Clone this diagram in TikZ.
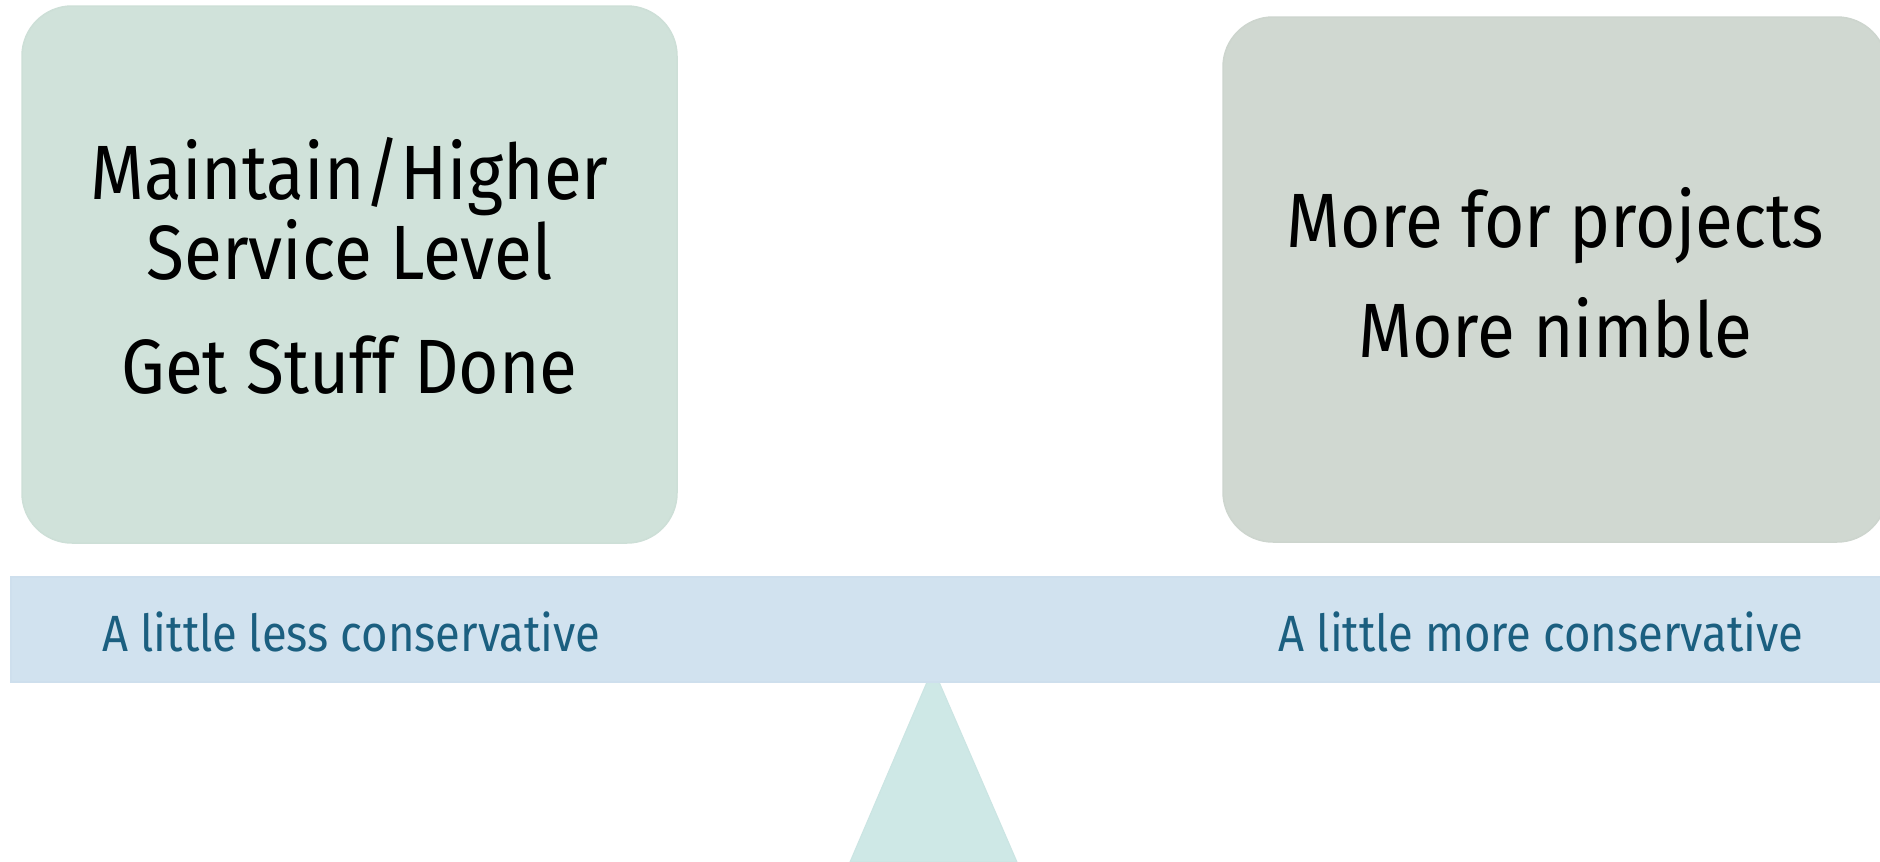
\documentclass[tikz,border=0pt]{standalone}
\usepackage{fontspec}
\newfontfamily\dinfont[FakeStretch=0.9]{Fira Sans}
\newfontfamily\dinbeam[FakeStretch=0.89]{Fira Sans}
\definecolor{leftfill}{HTML}{D0E2DA}
\definecolor{leftedge}{HTML}{CDDFD7}
\definecolor{rightfill}{HTML}{D0D8D1}
\definecolor{rightedge}{HTML}{CDD5CE}
\definecolor{beamfill}{HTML}{D1E2EF}
\definecolor{beamedge}{HTML}{CEDFED}
\definecolor{beamtext}{HTML}{1B5F80}
\definecolor{pivotfill}{HTML}{CEE8E6}
\definecolor{pivotedge}{HTML}{CBE5E3}
\begin{document}
\begin{tikzpicture}[x=1pt,y=-1pt,
  panel/.style={rectangle, rounded corners=50pt, line width=1.5pt, inner sep=0pt},
  paneltext/.style={anchor=base, inner sep=0pt, font=\dinfont\fontsize{77}{90}\selectfont, text=black},
  beamtext/.style={anchor=base, inner sep=0pt, font=\dinbeam\fontsize{51}{60}\selectfont, text=beamtext}]
  \useasboundingbox[fill=white] (0,0) rectangle (1880,862);

  % pivot under the beam
  \coordinate (apex) at (933,668);
  \coordinate (baseL) at (850,862);
  \coordinate (baseR) at (1017,862);
  \filldraw[fill=pivotfill, draw=pivotedge, line width=1pt] (apex) -- (baseR) -- (baseL) -- cycle;

  % beam
  \node[rectangle, fill=beamfill, draw=beamedge, line width=1.5pt, inner sep=0pt,
        minimum width=1900pt, minimum height=105pt] (beam) at (961,629.5) {};

  % panels resting on the beam
  \node[panel, fill=leftfill, draw=leftedge, minimum width=655pt, minimum height=537pt] (left) at (349.5,274.5) {};
  \node[panel, fill=rightfill, draw=rightedge, minimum width=664pt, minimum height=525pt] (right) at (1555,279.5) {};

  \node[paneltext] (l1) at (349.5,199) {Maintain/Higher};
  \node[paneltext] (l2) at (349.5,279) {Service Level};
  \node[paneltext] (l3) at (349.5,393) {Get Stuff Done};

  \node[paneltext] (r1) at (1555,247) {More for projects};
  \node[paneltext] (r2) at (1555,357) {More nimble};

  \node[beamtext] (bl) at (351.5,651) {A little less conservative};
  \node[beamtext] (br) at (1541,651) {A little more conservative};
\end{tikzpicture}
\end{document}
